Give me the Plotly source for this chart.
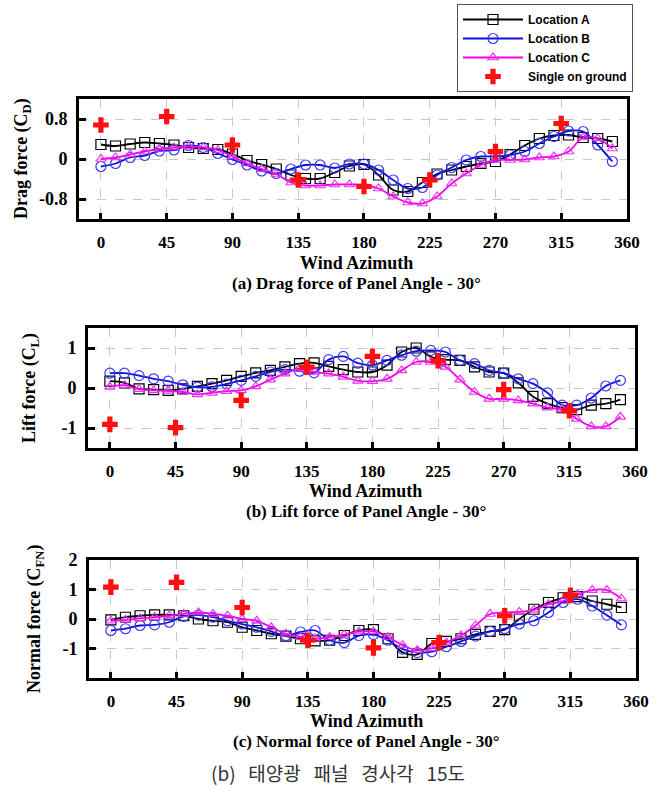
import plotly.graph_objects as go

az = list(range(0, 360, 10))
az_ground = [0, 45, 90, 135, 180, 225, 270, 315]
x_ticks = [0, 45, 90, 135, 180, 225, 270, 315, 360]

# Panel (a) Drag force
drag_A = [0.29, 0.26, 0.30, 0.33, 0.31, 0.28, 0.23, 0.21, 0.19, 0.10, -0.03, -0.11, -0.20, -0.32, -0.39, -0.39, -0.27, -0.14,
          -0.11, -0.32, -0.62, -0.65, -0.47, -0.30, -0.22, -0.15, -0.09, -0.05, 0.09, 0.27, 0.41, 0.47, 0.48, 0.43, 0.41, 0.35]
drag_B = [-0.15, -0.09, 0.03, 0.07, 0.16, 0.18, 0.27, 0.23, 0.11, -0.01, -0.12, -0.24, -0.29, -0.20, -0.12, -0.12, -0.18, -0.10,
          -0.10, -0.22, -0.42, -0.59, -0.57, -0.32, -0.17, -0.02, 0.05, 0.05, 0.08, 0.15, 0.31, 0.45, 0.56, 0.55, 0.28, -0.05]
drag_C = [0.00, 0.03, 0.09, 0.15, 0.20, 0.23, 0.25, 0.23, 0.18, 0.05, -0.09, -0.20, -0.30, -0.47, -0.53, -0.53, -0.51, -0.51,
          -0.52, -0.59, -0.75, -0.87, -0.89, -0.75, -0.49, -0.29, -0.12, -0.02, -0.02, -0.01, 0.03, 0.05, 0.15, 0.43, 0.41, 0.21]
drag_G = [0.68, 0.85, 0.28, -0.42, -0.55, -0.42, 0.15, 0.71]

# Panel (b) Lift force
lift_A = [0.17, 0.13, -0.02, -0.04, -0.06, -0.02, 0.04, 0.11, 0.19, 0.29, 0.38, 0.44, 0.53, 0.61, 0.63, 0.54, 0.46, 0.40,
          0.40, 0.57, 0.90, 1.00, 0.78, 0.71, 0.69, 0.53, 0.40, 0.37, 0.13, -0.21, -0.39, -0.49, -0.54, -0.43, -0.39, -0.29]
lift_B = [0.37, 0.37, 0.31, 0.23, 0.17, 0.08, 0.02, 0.03, 0.10, 0.19, 0.29, 0.40, 0.46, 0.42, 0.38, 0.71, 0.79, 0.62,
          0.57, 0.69, 0.82, 0.92, 0.94, 0.90, 0.69, 0.61, 0.44, 0.37, 0.23, 0.11, -0.12, -0.43, -0.43, -0.25, 0.05, 0.19]
lift_C = [0.03, 0.07, -0.03, -0.06, -0.07, -0.10, -0.16, -0.12, -0.08, -0.06, 0.04, 0.21, 0.36, 0.48, 0.40, 0.36, 0.28, 0.18,
          0.17, 0.23, 0.44, 0.65, 0.65, 0.53, 0.21, -0.10, -0.27, -0.27, -0.31, -0.39, -0.49, -0.54, -0.77, -0.96, -0.96, -0.72]
lift_G = [-0.91, -0.99, -0.31, 0.52, 0.79, 0.68, -0.04, -0.57]

# Panel (c) Normal force
norm_A = [-0.03, 0.06, 0.11, 0.14, 0.14, 0.11, 0.00, -0.06, -0.11, -0.28, -0.39, -0.50, -0.58, -0.67, -0.74, -0.72, -0.56, -0.39,
          -0.36, -0.67, -1.13, -1.20, -0.83, -0.76, -0.67, -0.52, -0.42, -0.36, 0.00, 0.33, 0.56, 0.72, 0.76, 0.61, 0.50, 0.39]
norm_B = [-0.39, -0.33, -0.22, -0.20, -0.11, 0.09, 0.13, 0.06, -0.06, -0.17, -0.28, -0.42, -0.56, -0.44, -0.39, -0.72, -0.80, -0.56,
          -0.53, -0.72, -1.02, -1.14, -1.11, -0.94, -0.76, -0.58, -0.42, -0.33, -0.17, -0.06, 0.22, 0.56, 0.67, 0.44, 0.13, -0.20]
norm_C = [-0.06, -0.03, 0.02, 0.06, 0.11, 0.17, 0.22, 0.17, 0.11, 0.00, -0.06, -0.28, -0.50, -0.61, -0.67, -0.61, -0.53, -0.43,
          -0.42, -0.61, -0.89, -1.06, -1.00, -0.80, -0.56, -0.22, 0.17, 0.22, 0.24, 0.31, 0.50, 0.61, 0.83, 0.98, 0.98, 0.69]
norm_G = [1.08, 1.24, 0.39, -0.72, -0.98, -0.80, 0.11, 0.80]

names = ["Location A", "Location B", "Location C", "Single on ground"]
y_titles = ["Drag force (C<sub>D</sub>)", "Lift force (C<sub>L</sub>)", "Normal force (C<sub>FN</sub>)"]
captions = ["(a) Drag force of Panel Angle - 30°", "(b) Lift force of Panel Angle - 30°",
            "(c) Normal force of Panel Angle - 30°"]
x_title = "Wind Azimuth"
sp = "\u00a0\u00a0\u00a0"
bottom_caption = "(b)" + sp + "태양광" + sp + "패널" + sp + "경사각" + sp + "15도"

panels = [
    dict(A=drag_A, B=drag_B, C=drag_C, G=drag_G, yr=[-1.2, 1.2], yt=[-0.8, 0, 0.8], ytt=["-0.8", "0", "0.8"]),
    dict(A=lift_A, B=lift_B, C=lift_C, G=lift_G, yr=[-1.5, 1.5], yt=[-1, 0, 1], ytt=["-1", "0", "1"]),
    dict(A=norm_A, B=norm_B, C=norm_C, G=norm_G, yr=[-2, 2], yt=[-1, 0, 1, 2], ytt=["-1", "0", "1", "2"]),
]

W, H = 661, 788
# pixel boxes: (left, right, top, bottom)
boxes = [(79, 627, 99, 219), (88, 635, 328, 448), (89, 636, 560, 678)]
ylabel_x = [22, 30, 35]
label_rows = [(263, 283), (491, 511), (721, 741)]

serif = "Liberation Serif, Times New Roman, serif"
fig = go.Figure()

styles = [
    dict(color="black", mcolor="black", symbol="square-open", size=10),
    dict(color="#1010d8", mcolor="#3a3aff", symbol="circle-open", size=10),
    dict(color="#ee00ee", mcolor="#ee33ee", symbol="triangle-up-open", size=9),
]

for i, p in enumerate(panels):
    xa = "x" if i == 0 else f"x{i+1}"
    ya = "y" if i == 0 else f"y{i+1}"
    for k, key in enumerate(["A", "B", "C"]):
        s = styles[k]
        fig.add_trace(go.Scatter(
            x=az, y=p[key], mode="lines+markers", name=names[k], showlegend=(i == 0),
            line=dict(color=s["color"], width=1.8, shape="spline", smoothing=1),
            marker=dict(symbol=s["symbol"], size=s["size"], color=s["mcolor"], line=dict(width=1.2, color=s["mcolor"])),
            xaxis=xa, yaxis=ya))
    fig.add_trace(go.Scatter(
        x=az_ground, y=p["G"], mode="markers", name=names[3], showlegend=(i == 0),
        marker=dict(symbol="cross", size=13, color="#ff1010", line=dict(width=0)),
        xaxis=xa, yaxis=ya))

layout = dict(
    width=W, height=H, margin=dict(l=0, r=0, t=0, b=0, autoexpand=False),
    paper_bgcolor="white", plot_bgcolor="white",
    showlegend=True,
    legend=dict(x=457 / W, y=1 - 4 / H, xanchor="left", yanchor="top",
                bordercolor="#555555", borderwidth=1, bgcolor="white",
                font=dict(family="Arial, Liberation Sans, sans-serif", size=12, color="black", weight="bold"),
                itemwidth=60, tracegroupgap=0),
)

for i, p in enumerate(panels):
    l, r, t, b = boxes[i]
    xn = "xaxis" if i == 0 else f"xaxis{i+1}"
    yn = "yaxis" if i == 0 else f"yaxis{i+1}"
    ya = "y" if i == 0 else f"y{i+1}"
    xa = "x" if i == 0 else f"x{i+1}"
    layout[xn] = dict(domain=[l / W, r / W], range=[-15, 360], tickvals=x_ticks,
                      ticktext=[str(v) for v in x_ticks], anchor=ya, automargin=False,
                      showline=True, linecolor="black", linewidth=3, mirror=True,
                      showgrid=True, gridcolor="#c8c8c8", griddash="dash", gridwidth=1,
                      ticks="inside", ticklen=6, tickwidth=3, tickcolor="black",
                      tickfont=dict(family=serif, size=17, color="black", weight="bold"),
                      ticklabelstandoff=6, zeroline=False, fixedrange=True)
    layout[yn] = dict(domain=[1 - b / H, 1 - t / H], range=p["yr"], tickvals=p["yt"], ticktext=p["ytt"],
                      anchor=xa, automargin=False, showline=True, linecolor="black", linewidth=3, mirror=True,
                      showgrid=True, gridcolor="#c8c8c8", griddash="dash", gridwidth=1,
                      ticks="inside", ticklen=7, tickwidth=3, tickcolor="black",
                      tickfont=dict(family=serif, size=18, color="black", weight="bold"),
                      ticklabelstandoff=5, zeroline=False, fixedrange=True)

fig.update_layout(**layout)

ann = []
for i in range(3):
    l, r, t, b = boxes[i]
    ann.append(dict(x=ylabel_x[i] / W, y=1 - ((t + b) / 2) / H, xref="paper", yref="paper",
                    xanchor="center", yanchor="middle",
                    text=y_titles[i], textangle=-90, showarrow=False,
                    font=dict(family=serif, size=18, color="black", weight="bold")))
    ann.append(dict(x=((l + r) / 2 + 4) / W, y=1 - label_rows[i][0] / H, xref="paper", yref="paper",
                    xanchor="center", yanchor="middle",
                    text=x_title, showarrow=False,
                    font=dict(family=serif, size=18, color="black", weight="bold")))
    ann.append(dict(x=((l + r) / 2 + 4) / W, y=1 - label_rows[i][1] / H, xref="paper", yref="paper",
                    xanchor="center", yanchor="middle",
                    text=captions[i], showarrow=False,
                    font=dict(family=serif, size=17, color="black", weight="bold")))
ann.append(dict(x=338 / W, y=1 - 772 / H, xref="paper", yref="paper", text=bottom_caption, showarrow=False,
                xanchor="center", yanchor="middle",
                font=dict(family="Noto Sans CJK KR, Noto Sans, sans-serif", size=19, color="#333333")))
fig.update_layout(annotations=ann)

fig.write_html("out.html", config=dict(displayModeBar=False),
               post_script="document.body.style.margin='0px';document.body.style.padding='0px';")
